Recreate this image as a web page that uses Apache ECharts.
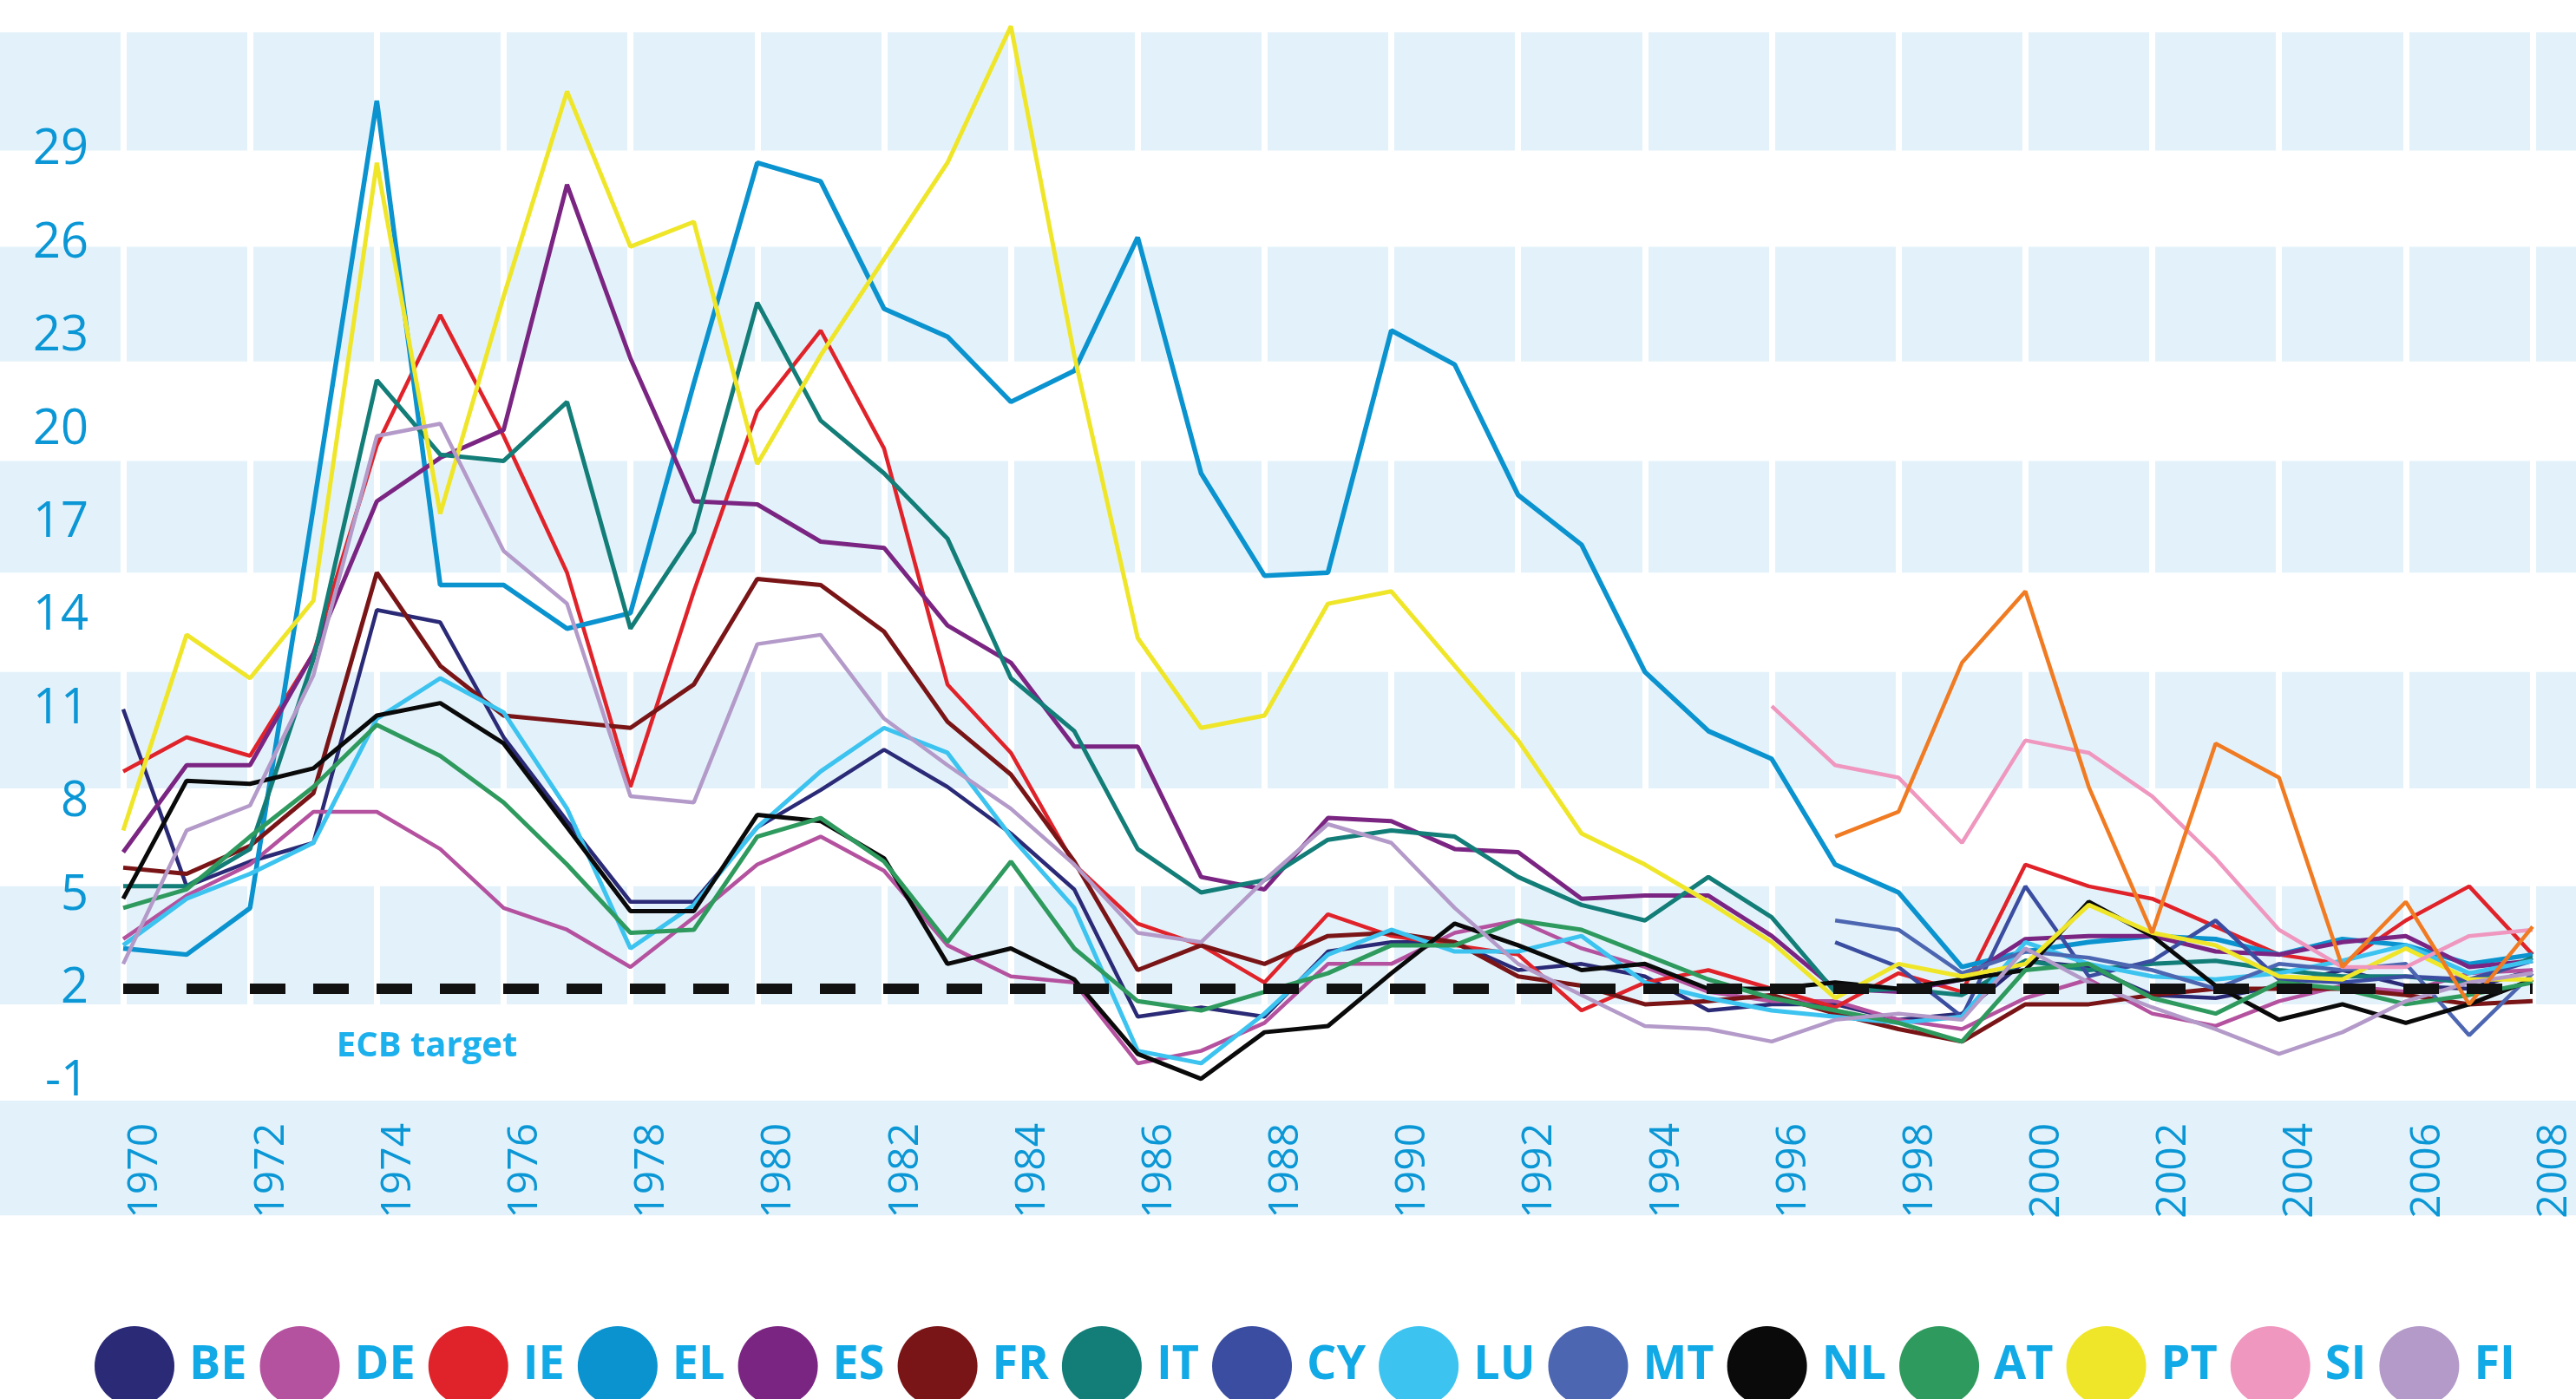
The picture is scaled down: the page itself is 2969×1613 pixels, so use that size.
<!DOCTYPE html>
<html>
<head>
<meta charset="utf-8">
<script src="https://cdn.jsdelivr.net/npm/echarts@6/dist/echarts.min.js"></script>
<style>
  html, body { margin: 0; padding: 0; background: #fff; }
  #main { width: 2969px; height: 1613px; }
</style>
</head>
<body>
<div id="main"></div>
<script>
// years on the x axis
const years = ['1970','1971','1972','1973','1974','1975','1976','1977','1978','1979',
  '1980','1981','1982','1983','1984','1985','1986','1987','1988','1989',
  '1990','1991','1992','1993','1994','1995','1996','1997','1998','1999',
  '2000','2001','2002','2003','2004','2005','2006','2007','2008'];
const yTicks = [-1, 2, 5, 8, 11, 14, 17, 20, 23, 26, 29];
const ecbTarget = 2;

// series that only start later get nulls in front
function fromYear(start, values) {
  return new Array(start - 1970).fill(null).concat(values);
}

const BE = [11.0, 5.3, 6.1, 6.7, 14.2, 13.8, 10.1, 7.4, 4.8, 4.8,
  7.2, 8.4, 9.7, 8.5, 7.0, 5.2, 1.1, 1.4, 1.1, 3.2,
  3.5, 3.5, 2.6, 2.8, 2.4, 1.3, 1.5, 1.5, 1.0, 1.2,
  2.9, 2.7, 1.8, 1.7, 2.1, 2.6, 2.1, 2.0, 2.6];
const DE = [3.6, 5.0, 6.0, 7.7, 7.7, 6.5, 4.6, 3.9, 2.7, 4.3,
  6.0, 6.9, 5.8, 3.4, 2.4, 2.2, -0.4, 0.0, 0.9, 2.8,
  2.8, 3.8, 4.2, 3.3, 2.7, 1.9, 1.6, 1.6, 1.0, 0.7,
  1.7, 2.3, 1.2, 0.8, 1.6, 2.1, 1.9, 2.5, 2.6];
const IE = [9.0, 10.1, 9.5, 12.8, 19.5, 23.7, 19.8, 15.4, 8.5, 14.8,
  20.6, 23.2, 19.4, 11.8, 9.6, 6.0, 4.1, 3.4, 2.2, 4.4,
  3.7, 3.4, 3.1, 1.3, 2.2, 2.6, 2.0, 1.4, 2.5, 1.9,
  6.0, 5.3, 4.9, 4.0, 3.1, 2.8, 4.2, 5.3, 3.1];
const EL = [3.3, 3.1, 4.6, 17.5, 30.6, 15.0, 15.0, 13.6, 14.1, 21.5,
  28.6, 28.0, 23.9, 23.0, 20.9, 21.9, 26.2, 18.6, 15.3, 15.4,
  23.2, 22.1, 17.9, 16.3, 12.2, 10.3, 9.4, 6.0, 5.1, 2.7,
  3.2, 3.5, 3.7, 3.6, 3.1, 3.6, 3.4, 2.8, 3.1];
const ES = [6.4, 9.2, 9.2, 12.8, 17.7, 19.1, 20.0, 27.9, 22.3, 17.7,
  17.6, 16.4, 16.2, 13.7, 12.5, 9.8, 9.8, 5.6, 5.2, 7.5,
  7.4, 6.5, 6.4, 4.9, 5.0, 5.0, 3.7, 2.0, 1.9, 2.3,
  3.6, 3.7, 3.7, 3.2, 3.1, 3.5, 3.7, 2.7, 2.9];
const FR = [5.9, 5.7, 6.6, 8.3, 15.4, 12.4, 10.8, 10.6, 10.4, 11.8,
  15.2, 15.0, 13.5, 10.6, 8.9, 6.1, 2.6, 3.4, 2.8, 3.7,
  3.8, 3.5, 2.4, 2.1, 1.5, 1.6, 1.8, 1.2, 0.7, 0.3,
  1.5, 1.5, 1.8, 2.0, 2.0, 2.0, 1.8, 1.5, 1.6];
const IT = [5.3, 5.3, 6.5, 12.6, 21.6, 19.2, 19.0, 20.9, 13.6, 16.7,
  24.1, 20.3, 18.6, 16.5, 12.0, 10.3, 6.5, 5.1, 5.5, 6.8,
  7.1, 6.9, 5.6, 4.7, 4.2, 5.6, 4.3, 1.9, 2.0, 1.8,
  2.9, 2.6, 2.8, 2.9, 2.6, 2.4, 2.4, 2.2, 3.0];
const CY = fromYear(1997, [3.5, 2.7, 1.1, 5.3, 2.4, 2.9, 4.2, 2.3, 2.2, 2.4, 2.3, 2.9]);
const LU = [3.4, 4.9, 5.7, 6.7, 10.7, 12.0, 10.9, 7.8, 3.3, 4.7,
  7.2, 9.0, 10.4, 9.6, 6.9, 4.6, 0.0, -0.4, 1.2, 3.1,
  3.9, 3.2, 3.2, 3.7, 2.2, 1.7, 1.3, 1.1, 0.9, 1.1,
  3.5, 2.8, 2.4, 2.3, 2.5, 2.9, 3.4, 2.5, 2.9];
const MT = fromYear(1997, [4.2, 3.9, 2.5, 3.2, 3.0, 2.6, 2.0, 2.8, 2.6, 2.8, 0.5, 2.5]);
const NL = [4.9, 8.7, 8.6, 9.1, 10.8, 11.2, 9.9, 7.2, 4.5, 4.5,
  7.6, 7.4, 6.2, 2.8, 3.3, 2.3, -0.1, -0.9, 0.6, 0.8,
  2.5, 4.1, 3.4, 2.6, 2.8, 2.0, 2.0, 2.2, 2.0, 2.3,
  2.6, 4.8, 3.7, 2.1, 1.0, 1.5, 0.9, 1.5, 2.3];
const AT = [4.6, 5.2, 6.9, 8.5, 10.5, 9.5, 8.0, 6.0, 3.8, 3.9,
  6.9, 7.5, 6.1, 3.5, 6.1, 3.3, 1.6, 1.3, 1.9, 2.5,
  3.4, 3.4, 4.2, 3.9, 3.1, 2.3, 1.7, 1.3, 0.9, 0.3,
  2.6, 2.8, 1.7, 1.2, 2.2, 2.0, 1.5, 1.8, 2.2];
const PT = [7.1, 13.4, 12.0, 14.5, 28.6, 17.3, 24.3, 30.9, 25.9, 26.7,
  18.9, 22.4, 25.5, 28.6, 33.0, 22.4, 13.3, 10.4, 10.8, 14.4,
  14.8, 12.4, 10.0, 7.0, 6.0, 4.8, 3.5, 1.7, 2.8, 2.4,
  2.8, 4.7, 3.8, 3.4, 2.4, 2.3, 3.3, 2.3, 2.3];
const SI = fromYear(1996, [11.1, 9.2, 8.8, 6.7, 10.0, 9.6, 8.2, 6.2, 3.9, 2.7, 2.7, 3.7, 3.9]);
const FI = [2.8, 7.1, 7.9, 12.1, 19.8, 20.2, 16.1, 14.4, 8.2, 8.0,
  13.1, 13.4, 10.7, 9.2, 7.8, 6.0, 3.8, 3.5, 5.5, 7.3,
  6.7, 4.6, 2.8, 1.8, 0.8, 0.7, 0.3, 1.0, 1.2, 1.0,
  3.3, 2.2, 1.4, 0.7, -0.1, 0.6, 1.6, 2.2, 2.5];
// orange line, its legend entry is cut off in the original
const SK = fromYear(1997, [6.9, 7.7, 12.5, 14.8, 8.5, 3.8, 9.9, 8.8, 2.7, 4.8, 1.5, 4.0]);

const countries = [
  { name: 'BE', data: BE, color: '#2b2a77' },
  { name: 'DE', data: DE, color: '#b4529f' },
  { name: 'IE', data: IE, color: '#e0232a' },
  { name: 'EL', data: EL, color: '#0a93cf', width: 5.5 },
  { name: 'ES', data: ES, color: '#7b2583', width: 5 },
  { name: 'FR', data: FR, color: '#7a1517', width: 5 },
  { name: 'IT', data: IT, color: '#137d78', width: 5 },
  { name: 'CY', data: CY, color: '#3b4da0' },
  { name: 'LU', data: LU, color: '#3cc3ef', width: 5 },
  { name: 'MT', data: MT, color: '#4d66b1' },
  { name: 'NL', data: NL, color: '#0a0a0a', width: 5 },
  { name: 'AT', data: AT, color: '#2f9a5e', width: 5 },
  { name: 'PT', data: PT, color: '#efe62a', width: 5 },
  { name: 'SI', data: SI, color: '#ef97bf' },
  { name: 'FI', data: FI, color: '#b39ac9' },
  { name: 'SK', data: SK, color: '#f07b22' }
];
const legendNames = countries.map(c => c.name).filter(n => n !== 'SK');

// layout
const W = 2969, H = 1613;
const PX_PER_UNIT = 35.8, Y_AT_2 = 1140;
const yPix = v => Y_AT_2 - (v - 2) * PX_PER_UNIT;
const GRID_LEFT = 142, GRID_RIGHT = 15;
const Y_MIN = -1.6, Y_MAX = 33.5, BAND_FLOOR = -5.3;
const xPix = idx => GRID_LEFT + idx * (W - GRID_LEFT - GRID_RIGHT) / (years.length - 1);
// light blue background stripes (value ranges), last one behind the year labels
const blueBands = [[1.5, 5.3], [8.45, 12.2], [15.4, 19.0], [22.2, 25.9], [29.0, 32.8], [BAND_FLOOR, Y_MIN]];

const axisBlue = '#0b97d5';
const labelBlue = '#12aae6';
const narrow = '"Liberation Sans Narrow", "Open Sans", sans-serif';
const plain = '"Open Sans", "Noto Sans", sans-serif';

const chart = echarts.init(document.getElementById('main'), null, { renderer: 'canvas' });

const lineSeries = countries.map(c => ({
  name: c.name,
  type: 'line',
  data: c.data,
  symbol: 'none',
  connectNulls: false,
  z: 3,
  lineStyle: { color: c.color, width: c.width || 4.5 },
  itemStyle: { color: c.color }
}));

const option = {
  backgroundColor: '#ffffff',
  animation: false,
  grid: [
    { left: GRID_LEFT, right: GRID_RIGHT, top: yPix(Y_MAX), bottom: H - yPix(Y_MIN) },
    { left: 0, right: 0, top: yPix(Y_MAX), bottom: H - yPix(BAND_FLOOR) }
  ],
  xAxis: [
    {
      type: 'category',
      data: years,
      boundaryGap: false,
      z: 2,
      axisLine: { show: false },
      axisTick: { show: false },
      axisLabel: {
        interval: 1,
        rotate: 90,
        margin: 26,
        color: axisBlue,
        fontSize: 48,
        fontFamily: plain,
        verticalAlign: 'top',
        lineHeight: 50
      },
      splitLine: { show: true, interval: 1, lineStyle: { color: '#ffffff', width: 7 } }
    },
    { gridIndex: 1, type: 'value', show: false, min: 0, max: 1 }
  ],
  yAxis: [
    {
      type: 'value',
      min: Y_MIN,
      max: Y_MAX,
      z: 2,
      axisLine: { show: false },
      axisTick: { show: false },
      splitLine: { show: false },
      axisLabel: {
        customValues: yTicks,
        margin: 40,
        color: axisBlue,
        fontSize: 56,
        fontFamily: plain
      }
    },
    { gridIndex: 1, type: 'value', show: false, min: BAND_FLOOR, max: Y_MAX }
  ],
  legend: {
    data: legendNames,
    left: 104,
    top: 1524,
    width: 3400,
    icon: 'circle',
    itemWidth: 92,
    itemHeight: 92,
    itemGap: 15,
    selectedMode: false,
    textStyle: {
      color: labelBlue,
      fontSize: 54,
      fontWeight: 'bold',
      fontFamily: narrow,
      padding: [0, 0, 0, 12]
    }
  },
  graphic: [
    {
      type: 'text',
      x: xPix(4.73),
      y: yPix(0.15),
      z: 10,
      style: {
        text: 'ECB target',
        fill: '#1cb0ec',
        font: 'bold 40px ' + narrow,
        align: 'center',
        verticalAlign: 'middle',
        textAlign: 'center',
        textVerticalAlign: 'middle'
      }
    }
  ],
  series: [
    {
      type: 'line',
      xAxisIndex: 1,
      yAxisIndex: 1,
      data: [],
      silent: true,
      z: 0,
      zlevel: 0,
      markArea: {
        silent: true,
        z: -5,
        itemStyle: { color: '#e3f2fa' },
        data: blueBands.map(b => [{ yAxis: b[0] }, { yAxis: b[1] }])
      }
    },
    ...lineSeries,
    {
      name: 'ECB target',
      type: 'line',
      data: [],
      z: 6,
      markLine: {
        silent: true,
        z: 6,
        symbol: 'none',
        label: { show: false },
        lineStyle: { color: '#111111', width: 12, type: [41, 32] },
        data: [{ yAxis: ecbTarget }]
      }
    }
  ]
};

option && chart.setOption(option);
</script>
</body>
</html>
